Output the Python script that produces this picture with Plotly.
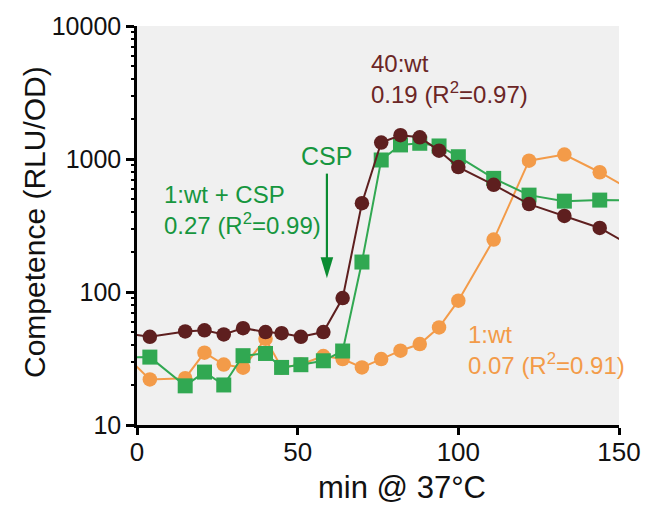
import plotly.graph_objects as go

# ---- data ----
time_min = [-7, 4, 15, 21, 27, 33, 40, 45, 51, 58, 64, 70, 76, 82, 88, 94, 100, 111, 122, 133, 144, 155]
wt40 = [50, 46, 50.5, 51.5, 48, 53.5, 50, 49, 46, 50, 90, 465, 1330, 1510, 1455, 1155, 870, 640, 458, 373, 303, 214]
wt1 = [40, 22, 22.5, 35, 28.5, 27, 44.5, 27, 28.5, 33, 31.3, 27.1, 31.3, 36.2, 40.6, 54.2, 86, 248, 971, 1080, 795, 564]
wt1_csp = [32, 32.4, 19.7, 25, 20, 33.2, 34.5, 27.1, 28.4, 30.4, 36, 168, 983, 1276, 1313, 1253, 1040, 715, 535, 482, 491, 490]

x_ticks = [0, 50, 100, 150]
y_ticks = [10, 100, 1000, 10000]
y_ticktext = ["10", "100", "1000", "10000"]
y_minor = [m * 10 ** k for k in (1, 2, 3) for m in range(2, 10)]

BROWN = "#5e1f1f"
BROWN_TXT = "#6b2626"
ORANGE = "#f39b49"
GREEN = "#31a852"
GREEN_TXT = "#16963e"
ARROW_GREEN = "#0b8c32"
FONT = "Liberation Sans, Arial, sans-serif"

fig = go.Figure()
fig.add_trace(go.Scatter(x=time_min, y=wt1, mode="lines+markers", name="1:wt",
                         line=dict(color=ORANGE, width=2),
                         marker=dict(symbol="circle", size=14.5, color=ORANGE)))
fig.add_trace(go.Scatter(x=time_min, y=wt1_csp, mode="lines+markers", name="1:wt + CSP",
                         line=dict(color=GREEN, width=2),
                         marker=dict(symbol="square", size=15, color=GREEN)))
fig.add_trace(go.Scatter(x=time_min, y=wt40, mode="lines+markers", name="40:wt",
                         line=dict(color=BROWN, width=2),
                         marker=dict(symbol="circle", size=14.5, color=BROWN)))

fig.update_layout(
    width=653, height=506,
    margin=dict(l=137, r=27, t=25, b=81),
    paper_bgcolor="white", plot_bgcolor="#f0f0f0",
    showlegend=False,
    font=dict(family=FONT, color="#111111", size=25),
    # second (label-less) axis carrying the minor log ticks
    yaxis2=dict(overlaying="y", side="left", type="log", range=[1, 4], tickvals=y_minor,
                showticklabels=False, ticks="outside", ticklen=5, tickwidth=2,
                tickcolor="black", showline=False, showgrid=False, zeroline=False),
)
fig.update_xaxes(range=[0, 150], tickvals=x_ticks, ticks="outside", ticklen=7, tickwidth=2.5,
                 tickcolor="black", showline=True, linewidth=2.5, linecolor="black",
                 showgrid=False, zeroline=False, tickfont=dict(size=26),
                 ticklabelstandoff=-5)
fig.update_yaxes(selector=dict(overlaying=None), type="log", range=[1, 4], tickvals=y_ticks,
                 ticktext=y_ticktext, ticks="outside", ticklen=8, tickwidth=2.5, tickcolor="black",
                 showline=True, linewidth=2.5, linecolor="black",
                 showgrid=False, zeroline=False, tickfont=dict(size=25))
# dummy invisible trace so yaxis2 is drawn
fig.add_trace(go.Scatter(x=[None], y=[None], yaxis="y2", showlegend=False, hoverinfo="skip"))

fig.add_annotation(text="min @ 37°C", xref="paper", yref="paper",
                   x=(406 - 137) / 489, y=-(488 - 425) / 400, xanchor="center", yanchor="middle",
                   showarrow=False, font=dict(size=31, color="#111111"))
fig.add_annotation(text="Competence (RLU/OD)", xref="paper", yref="paper",
                   x=-(137 - 33) / 489, y=(425 - 221) / 400, xanchor="center", yanchor="middle",
                   textangle=-90, showarrow=False, font=dict(size=30, color="#111111"))

fig.add_annotation(text="40:wt<br>0.19 (R<sup>2</sup>=0.97)", xref="x", yref="paper",
                   x=72.3, y=(425 - 78) / 400, xanchor="left", yanchor="middle", align="left",
                   showarrow=False, font=dict(size=24, color=BROWN_TXT))
fig.add_annotation(text="1:wt + CSP<br>0.27 (R<sup>2</sup>=0.99)", xref="x", yref="paper",
                   x=7.9, y=(425 - 209) / 400, xanchor="left", yanchor="middle", align="left",
                   showarrow=False, font=dict(size=24, color=GREEN_TXT))
fig.add_annotation(text="1:wt<br>0.07 (R<sup>2</sup>=0.91)", xref="x", yref="paper",
                   x=102.4, y=(425 - 350) / 400, xanchor="left", yanchor="middle", align="left",
                   showarrow=False, font=dict(size=24, color=ORANGE))
fig.add_annotation(text="CSP", xref="x", yref="paper",
                   x=59.1, y=(425 - 155) / 400, xanchor="center", yanchor="middle",
                   showarrow=False, font=dict(size=25, color=GREEN_TXT))

# CSP arrow: shaft + narrow filled head
tip_y = (425 - 278) / 400
fig.add_shape(type="line", xref="x", yref="paper", x0=59.1, x1=59.1,
              y0=(425 - 173) / 400, y1=(425 - 262) / 400,
              line=dict(color=ARROW_GREEN, width=2.2))
fig.add_shape(type="path", xref="x", yref="paper", xsizemode="pixel", ysizemode="pixel",
              xanchor=59.1, yanchor=tip_y, path="M0,0 L-6.3,21 L6.3,21 Z",
              fillcolor=ARROW_GREEN, line=dict(width=0))

fig.write_html("out.html", config={"displayModeBar": False})

# remove the browser's default page margin so the figure sits at (0, 0)
with open("out.html", encoding="utf-8") as f:
    html = f.read()
html = html.replace("<head>", "<head><style>html,body{margin:0;padding:0;}</style>", 1)
with open("out.html", "w", encoding="utf-8") as f:
    f.write(html)
